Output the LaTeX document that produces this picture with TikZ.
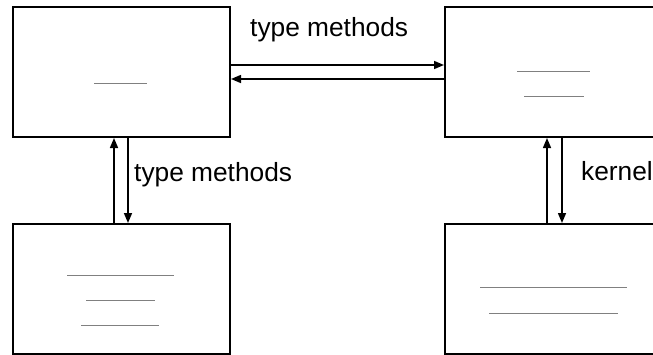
\documentclass[tikz,border=0pt]{standalone}
\usepackage{fontspec}
\setmainfont{Liberation Sans}
\usetikzlibrary{arrows.meta}
\begin{document}
\begin{tikzpicture}[x=1pt,y=-1pt,
  box/.style={draw=black,line width=2pt,fill=white,minimum width=217pt,minimum height=130pt,inner sep=0pt,anchor=north west},
  arr/.style={line width=1.5pt,-{Triangle[length=10pt,width=8pt]}},
  ph/.style={draw=gray,line width=1pt},
  lbl/.style={font=\fontsize{26.3}{30}\selectfont,inner sep=0pt,anchor=base west}]
\clip (0,0) rectangle (653,354);
\fill[white] (0,0) rectangle (653,354);
\node[box] (a) at (12,6) {};
\node[box] (b) at (444,6) {};
\node[box] (c) at (12,223) {};
\node[box] (d) at (444,223) {};
% placeholder lines
\draw[ph] (94,83) -- (147,83);
\draw[ph] (517,71) -- (590,71);
\draw[ph] (524,96) -- (584,96);
\draw[ph] (67,275) -- (174,275);
\draw[ph] (86,300) -- (155,300);
\draw[ph] (81,325) -- (159,325);
\draw[ph] (480,287) -- (627,287);
\draw[ph] (489,313) -- (618,313);
% connectors
\draw[arr] ([yshift=7pt]a.east) -- ([yshift=7pt]b.west);
\draw[arr] ([yshift=-7pt]b.west) -- ([yshift=-7pt]a.east);
\draw[arr] ([xshift=-7.5pt]c.north) -- ([xshift=-7.5pt]a.south);
\draw[arr] ([xshift=6.5pt]a.south) -- ([xshift=6.5pt]c.north);
\draw[arr] ([xshift=-6.5pt]d.north) -- ([xshift=-6.5pt]b.south);
\draw[arr] ([xshift=8.5pt]b.south) -- ([xshift=8.5pt]d.north);
% labels
\node[lbl] (t1) at (250,36) {type methods};
\node[lbl] (t2) at (134,181) {type methods};
\node[lbl] (t3) at (581,180) {kernel};
\end{tikzpicture}
\end{document}
